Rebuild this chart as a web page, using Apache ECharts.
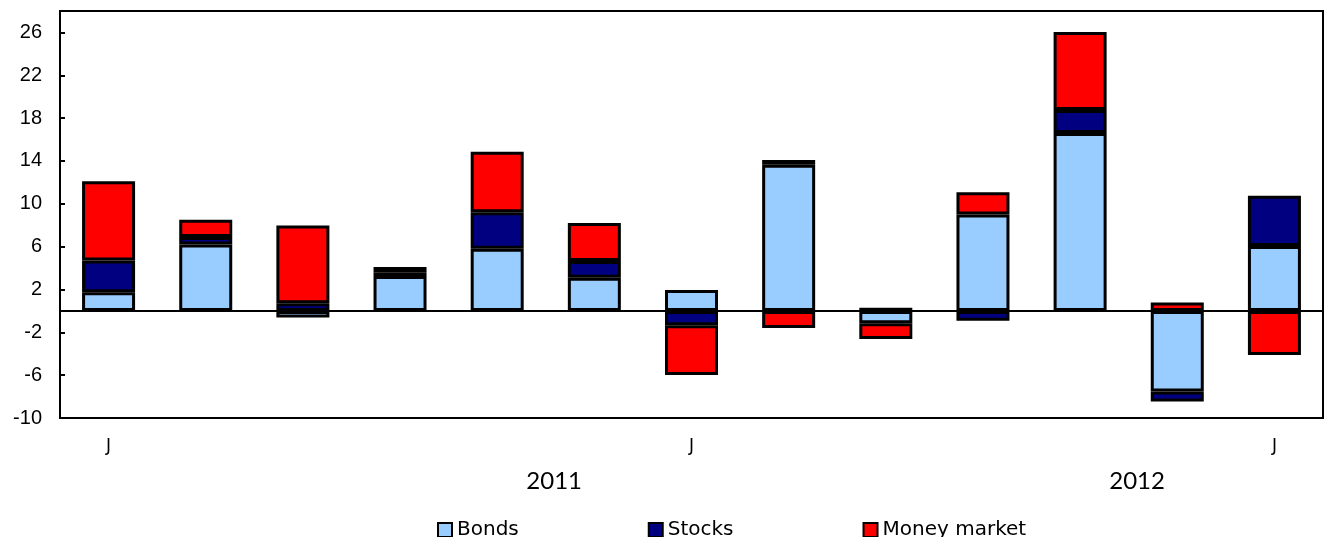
<!DOCTYPE html>
<html>
<head>
<meta charset="utf-8">
<script src="https://cdn.jsdelivr.net/npm/echarts@6/dist/echarts.min.js"></script>
<style>
  html, body { margin: 0; padding: 0; background: #fff; }
  #flowChart { width: 1325px; height: 537px; }
</style>
</head>
<body>
<div id="flowChart"></div>
<script>
// 月度标签（J = 1月/7月），年份标签
var monthLabels = ['J', '', '', '', '', '', 'J', '', '', '', '', '', 'J'];
var yearLabels = ['', '', '', '', '2011', '', '', '', '', '', '2012', '', ''];

var bonds  = [1.75, 6.2, -0.62, 3.25, 5.8, 3.1, 1.95, 13.65, -1.15, 9.0, 16.6, -7.53, 6.05];
var stocks = [2.95, 0.7, 0.72, 0.35, 3.4, 1.55, -1.33, 0.45, 0.3, -0.93, 2.16, -0.94, 4.71];
var money  = [7.4, 1.6, 7.25, 0.5, 5.65, 3.55, -4.65, -1.6, -1.48, 2.07, 7.29, 0.78, -4.12];

var flowChart = echarts.init(document.getElementById('flowChart')),
flowOption = {
    animation: false,
    backgroundColor: '#fff',
    grid: {
        left: 60,
        right: 2,
        top: 11,
        bottom: 119,
        show: true,
        borderColor: '#000',
        borderWidth: 2
    },
    legend: {
        left: 437,
        top: 520,
        padding: 0,
        itemWidth: 14,
        itemHeight: 14,
        itemGap: 129,
        icon: 'rect',
        itemStyle: { borderColor: '#000', borderWidth: 2 },
        textStyle: { fontFamily: 'DejaVu Sans', fontSize: 20, color: '#000' },
        data: ['Bonds', 'Stocks', 'Money market']
    },
    xAxis: [
        {
            type: 'category',
            data: monthLabels,
            axisLine: { onZero: false, lineStyle: { color: '#000', width: 2 } },
            axisTick: { show: false },
            axisLabel: {
                interval: 0,
                margin: 20,
                color: '#000',
                fontFamily: 'DejaVu Sans',
                fontSize: 17
            }
        },
        {
            type: 'category',
            position: 'bottom',
            data: yearLabels,
            axisLine: { show: false },
            axisTick: { show: false },
            axisLabel: {
                interval: 0,
                margin: 51,
                padding: [0, 0, 0, 114],
                color: '#000',
                fontFamily: 'Lato',
                fontSize: 24
            }
        }
    ],
    yAxis: {
        type: 'value',
        min: -10,
        max: 28,
        interval: 4,
        splitLine: { show: false },
        axisLine: { show: true, lineStyle: { color: '#000', width: 2 } },
        axisTick: { show: true, inside: true, length: 5, lineStyle: { color: '#000', width: 2 } },
        axisLabel: {
            margin: 18,
            color: '#000',
            fontFamily: 'Liberation Sans',
            fontSize: 20,
            formatter: function (v) { return v === 28 ? '' : v; }
        }
    },
    series: [
        {
            name: 'Bonds',
            type: 'bar',
            stack: 'flow',
            barWidth: 53,
            data: bonds,
            itemStyle: { color: '#99CCFF', borderColor: '#000', borderWidth: 3 },
            markLine: {
                silent: true,
                symbol: 'none',
                label: { show: false },
                lineStyle: { color: '#000', width: 2, type: 'solid' },
                data: [{ yAxis: 0 }]
            }
        },
        {
            name: 'Stocks',
            type: 'bar',
            stack: 'flow',
            data: stocks,
            itemStyle: { color: '#000080', borderColor: '#000', borderWidth: 3 }
        },
        {
            name: 'Money market',
            type: 'bar',
            stack: 'flow',
            data: money,
            itemStyle: { color: '#FF0000', borderColor: '#000', borderWidth: 3 }
        }
    ]
};
flowChart.setOption(flowOption);
</script>
</body>
</html>
